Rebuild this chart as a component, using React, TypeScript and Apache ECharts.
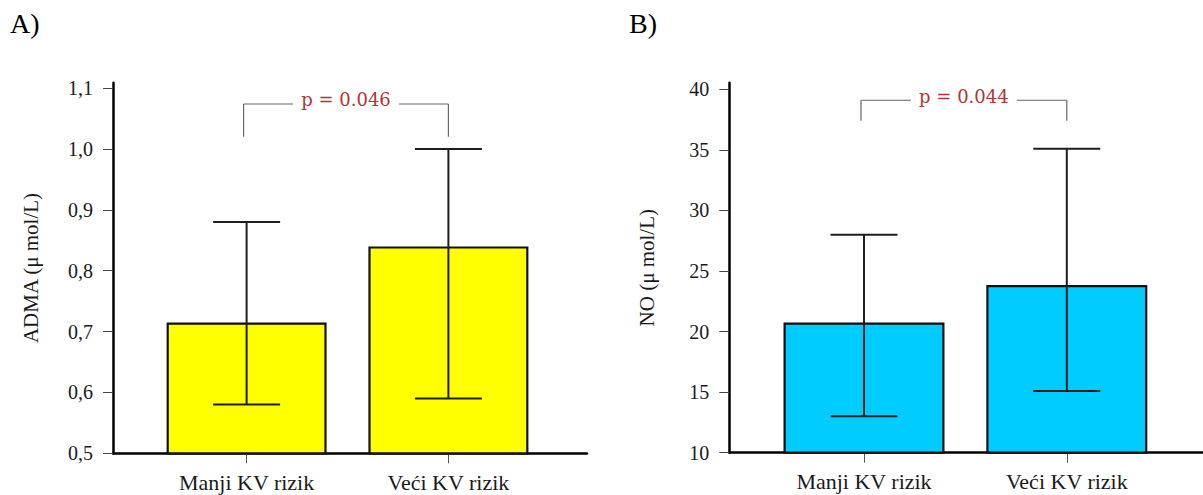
import React, { useEffect, useRef } from "react";
import * as echarts from "echarts";

// ---------- data ----------
const categories = ["Manji KV rizik", "Veći KV rizik"];

const admaMean = [0.715, 0.84];
const admaLow = [0.58, 0.59];
const admaHigh = [0.88, 1.0];
const admaTicks = [0.5, 0.6, 0.7, 0.8, 0.9, 1.0, 1.1];
const admaMin = 0.5;
const admaMax = 1.109;
const admaP = "p = 0.046";
const admaBracket = [1.074, 1.02]; // [top, foot]

const noMean = [20.75, 23.85];
const noLow = [13.0, 15.1];
const noHigh = [28.0, 35.1];
const noTicks = [10, 15, 20, 25, 30, 35, 40];
const noMin = 10;
const noMax = 40.55;
const noP = "p = 0.044";
const noBracket = [39.1, 37.4];

// ---------- styles ----------
const SERIF = "'Liberation Serif', 'Times New Roman', serif";
const TXT = "#1a1a1a";

function errorRender(params: any, api: any) {
  const x = api.value(0);
  const lo = api.value(1);
  const hi = api.value(2);
  const pLo = api.coord([x, lo]);
  const pHi = api.coord([x, hi]);
  const hw = 33.5;
  const st = { stroke: "#1e1e1e", lineWidth: 2 };
  return {
    type: "group",
    children: [
      { type: "line", shape: { x1: pHi[0], y1: pHi[1], x2: pLo[0], y2: pLo[1] }, style: st },
      { type: "line", shape: { x1: pHi[0] - hw, y1: pHi[1], x2: pHi[0] + hw, y2: pHi[1] }, style: st },
      { type: "line", shape: { x1: pLo[0] - hw, y1: pLo[1], x2: pLo[0] + hw, y2: pLo[1] }, style: st },
    ],
  };
}

function bracketRender(label: string) {
  return (params: any, api: any) => {
    const top = api.value(1);
    const foot = api.value(2);
    const l = api.coord([0, top]);
    const r = api.coord([1, top]);
    const lf = api.coord([0, foot]);
    const rf = api.coord([1, foot]);
    const lx = l[0] - 3;
    const rx = r[0];
    const mid = (lx + rx) / 2;
    const gap = 53;
    const st = { stroke: "#666", lineWidth: 1.2 };
    return {
      type: "group",
      children: [
        { type: "line", shape: { x1: lx, y1: lf[1], x2: lx, y2: l[1] }, style: st },
        { type: "line", shape: { x1: lx, y1: l[1], x2: mid - gap, y2: l[1] }, style: st },
        { type: "line", shape: { x1: mid + gap, y1: r[1], x2: rx, y2: r[1] }, style: st },
        { type: "line", shape: { x1: rx, y1: r[1], x2: rx, y2: rf[1] }, style: st },
        {
          type: "text",
          x: mid,
          y: l[1] - 4,
          style: {
            text: label,
            fill: "#b03535",
            fontSize: 18,
            fontFamily: "'DejaVu Serif', serif",
            align: "center",
            verticalAlign: "middle",
          },
        },
      ],
    };
  };
}

function frameY(gridIndex: number, min: number, max: number, ticks: number[], name: string, fmt: (v: number) => string) {
  return {
    type: "value",
    gridIndex,
    min,
    max,
    name,
    nameLocation: "middle",
    nameGap: 72,
    nameTextStyle: { fontFamily: SERIF, fontSize: 21, color: TXT },
    axisLine: { show: true, onZero: false, lineStyle: { color: "#000", width: 2.5 } },
    axisTick: { show: true, length: 10, customValues: ticks, lineStyle: { color: "#444", width: 1 } },
    axisLabel: {
      show: true,
      customValues: ticks,
      margin: 20,
      fontFamily: SERIF,
      fontSize: 20,
      color: TXT,
      formatter: (v: number) => fmt(v),
    },
    splitLine: { show: false },
  };
}

function hiddenY(gridIndex: number, min: number, max: number) {
  return { type: "value", gridIndex, min, max, show: false, splitLine: { show: false } };
}

function frameX(gridIndex: number) {
  return {
    type: "value",
    gridIndex,
    min: 0,
    max: 1,
    axisLine: { show: true, onZero: false, lineStyle: { color: "#000", width: 2.5 } },
    axisTick: { show: false },
    axisLabel: { show: false },
    splitLine: { show: false },
  };
}

function catX(gridIndex: number) {
  return {
    type: "category",
    gridIndex,
    data: categories,
    axisLine: { show: false, onZero: false },
    axisTick: { show: true, alignWithLabel: true, length: 10, lineStyle: { color: "#555", width: 1 } },
    axisLabel: { margin: 18, fontFamily: SERIF, fontSize: 22, color: TXT },
    splitLine: { show: false },
  };
}

export default function App() {
  const ref = useRef<HTMLDivElement>(null);
  useEffect(() => {
    if (!ref.current) return;
    const chart = echarts.init(ref.current, undefined, { renderer: "svg" });
    const option: any = {
      animation: false,
      backgroundColor: "#fff",
      grid: [
        { left: 113, top: 82.7, width: 474, height: 370.6 },
        { left: 145.7, top: 82.7, width: 403.6, height: 370.6 },
        { left: 729.3, top: 82.7, width: 473.7, height: 370 },
        { left: 762.6, top: 82.7, width: 405.6, height: 370 },
      ],
      xAxis: [frameX(0), catX(1), frameX(2), catX(3)],
      yAxis: [
        frameY(0, admaMin, admaMax, admaTicks, "ADMA (μ mol/L)", (v) => v.toFixed(1).replace(".", ",")),
        hiddenY(1, admaMin, admaMax),
        frameY(2, noMin, noMax, noTicks, "NO (μ mol/L)", (v) => String(Math.round(v))),
        hiddenY(3, noMin, noMax),
      ],
      graphic: [
        { type: "text", left: 10, top: 9, style: { text: "A)", fontFamily: SERIF, fontSize: 28, fill: "#000" } },
        { type: "text", left: 629, top: 9, style: { text: "B)", fontFamily: SERIF, fontSize: 28, fill: "#000" } },
      ],
      series: [
        {
          type: "bar",
          xAxisIndex: 1,
          yAxisIndex: 1,
          data: admaMean,
          barWidth: 160,
          itemStyle: { color: "#ffff00", borderColor: "#111", borderWidth: 2.2 },
        },
        {
          type: "custom",
          xAxisIndex: 1,
          yAxisIndex: 1,
          data: categories.map((c, i) => [i, admaLow[i], admaHigh[i]]),
          encode: { x: 0, y: [1, 2] },
          renderItem: errorRender,
          z: 5,
        },
        {
          type: "custom",
          xAxisIndex: 1,
          yAxisIndex: 1,
          data: [[0, admaBracket[0], admaBracket[1]]],
          encode: { x: 0, y: [1, 2] },
          renderItem: bracketRender(admaP),
          z: 5,
        },
        {
          type: "bar",
          xAxisIndex: 3,
          yAxisIndex: 3,
          data: noMean,
          barWidth: 161,
          itemStyle: { color: "#00ccff", borderColor: "#111", borderWidth: 2.2 },
        },
        {
          type: "custom",
          xAxisIndex: 3,
          yAxisIndex: 3,
          data: categories.map((c, i) => [i, noLow[i], noHigh[i]]),
          encode: { x: 0, y: [1, 2] },
          renderItem: errorRender,
          z: 5,
        },
        {
          type: "custom",
          xAxisIndex: 3,
          yAxisIndex: 3,
          data: [[0, noBracket[0], noBracket[1]]],
          encode: { x: 0, y: [1, 2] },
          renderItem: bracketRender(noP),
          z: 5,
        },
      ],
    };
    chart.setOption(option);
    return () => chart.dispose();
  }, []);
  return (
    <div
      ref={ref}
      style={{ position: "fixed", left: 0, top: 0, width: 1203, height: 495, background: "#fff" }}
    />
  );
}
